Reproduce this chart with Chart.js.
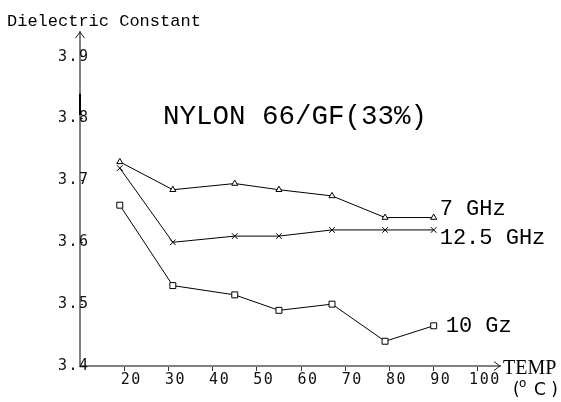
<!DOCTYPE html>
<html>
<head>
<meta charset="utf-8">
<script src="https://cdn.jsdelivr.net/npm/chart.js@4/dist/chart.umd.min.js"></script>
<style>
  html, body { margin: 0; padding: 0; background: #fff; }
  canvas { display: block; }
</style>
</head>
<body>
<canvas id="nylon-chart" width="561" height="402"></canvas>
<script>
// Temperature (deg C) of each measurement
const temps = [19, 31, 45, 55, 67, 79, 90];

// Dielectric constant per frequency
const values7GHz = [3.73, 3.685, 3.695, 3.685, 3.675, 3.64, 3.64];
const values12GHz = [3.72, 3.60, 3.61, 3.61, 3.62, 3.62, 3.62];
const values10GHz = [3.66, 3.53, 3.515, 3.49, 3.50, 3.44, 3.465];

// Axis ticks
const xTicks = [20, 30, 40, 50, 60, 70, 80, 90, 100];
const yTicks = [3.4, 3.5, 3.6, 3.7, 3.8, 3.9];

const toPoints = values => values.map((v, i) => ({ x: temps[i], y: v }));

const mono = '"Liberation Mono", "Courier New", monospace';
const tickFont = { family: '"DejaVu Sans Mono", monospace', size: 15 };

// Arrows on the axes, series names and captions
const annotations = {
  id: 'annotations',
  beforeDraw(chart) {
    chart.ctx.letterSpacing = '1.5px';
  },
  afterDraw(chart) {
    const ctx = chart.ctx;
    const { left, right, top, bottom } = chart.chartArea;
    const yScale = chart.scales.y;
    ctx.save();
    ctx.letterSpacing = '0px';

    // mark on the value axis
    ctx.strokeStyle = '#000';
    ctx.lineWidth = 2;
    ctx.beginPath();
    ctx.moveTo(left, yScale.getPixelForValue(3.84));
    ctx.lineTo(left, yScale.getPixelForValue(3.806));
    ctx.stroke();

    // arrow heads
    ctx.lineWidth = 1;
    ctx.strokeStyle = '#222';
    ctx.beginPath();
    ctx.moveTo(left - 4.5, top + 6);
    ctx.lineTo(left, top);
    ctx.lineTo(left + 4.5, top + 6);
    ctx.moveTo(right - 6, bottom - 4.5);
    ctx.lineTo(right, bottom);
    ctx.lineTo(right - 6, bottom + 4.5);
    ctx.stroke();

    ctx.fillStyle = '#000';
    ctx.textBaseline = 'alphabetic';
    ctx.textAlign = 'left';

    ctx.font = '17px ' + mono;
    ctx.fillText('Dielectric Constant', 7, 26);

    ctx.font = '27.5px ' + mono;
    ctx.fillText('NYLON 66/GF(33%)', 163, 124);

    // series names beside the last point of each line
    ctx.font = '22px ' + mono;
    const names = [
      { text: '7 GHz', ds: 0, dy: -3 },
      { text: '12.5 GHz', ds: 1, dy: 14 },
      { text: '10 Gz', ds: 2, dy: 6 }
    ];
    names.forEach(n => {
      const pt = chart.getDatasetMeta(n.ds).data[temps.length - 1];
      ctx.fillText(n.text, pt.x + (n.ds === 2 ? 12 : 6), pt.y + n.dy);
    });

    ctx.font = '20px "Liberation Serif", "Times New Roman", serif';
    ctx.fillText('TEMP', right + 3, bottom + 8);
    ctx.font = '17px "DejaVu Sans", sans-serif';
    ctx.fillText('(', right + 13, bottom + 29);
    ctx.font = '12px "DejaVu Sans", sans-serif';
    ctx.fillText('o', right + 19, bottom + 21);
    ctx.font = '17px "DejaVu Sans", sans-serif';
    ctx.fillText('C )', right + 34, bottom + 29);

    ctx.restore();
  }
};

const ctx = document.getElementById('nylon-chart').getContext('2d');
const chart = new Chart(ctx, {
  type: 'line',
  data: {
    datasets: [
      {
        label: '7 GHz',
        data: toPoints(values7GHz),
        pointStyle: 'triangle',
        pointRadius: 3.5
      },
      {
        label: '12.5 GHz',
        data: toPoints(values12GHz),
        pointStyle: 'crossRot',
        pointRadius: 4
      },
      {
        label: '10 Gz',
        data: toPoints(values10GHz),
        pointStyle: 'rect',
        pointRadius: 4.2
      }
    ].map(ds => Object.assign(ds, {
      borderColor: '#000',
      borderWidth: 1,
      pointBorderColor: '#000',
      pointBackgroundColor: '#fff',
      pointBorderWidth: 1,
      tension: 0,
      fill: false
    }))
  },
  options: {
    responsive: false,
    animation: false,
    layout: { padding: { left: 0, top: 32, right: 61, bottom: 0 } },
    plugins: {
      legend: { display: false },
      tooltip: { enabled: false }
    },
    scales: {
      x: {
        type: 'linear',
        min: 10,
        max: 105,
        afterFit: scale => { scale.height = 36; },
        afterBuildTicks: scale => { scale.ticks = xTicks.map(v => ({ value: v })); },
        border: { display: true, color: '#808080', width: 2 },
        grid: { drawOnChartArea: false, drawTicks: true, tickLength: 5, color: '#333' },
        ticks: {
          padding: 0,
          labelOffset: 7,
          maxRotation: 0,
          autoSkip: false,
          color: '#111',
          font: tickFont,
          callback: v => String(v)
        }
      },
      y: {
        type: 'linear',
        min: 3.4,
        max: 3.94,
        afterFit: scale => { scale.width = 80; },
        afterBuildTicks: scale => { scale.ticks = yTicks.map(v => ({ value: v })); },
        border: { display: true, color: '#808080', width: 2 },
        grid: { drawOnChartArea: false, drawTicks: true, tickLength: -3, color: '#333' },
        ticks: {
          mirror: true,
          padding: -22,
          autoSkip: false,
          color: '#111',
          font: tickFont,
          callback: v => v.toFixed(1)
        }
      }
    }
  },
  plugins: [annotations]
});
</script>
</body>
</html>
